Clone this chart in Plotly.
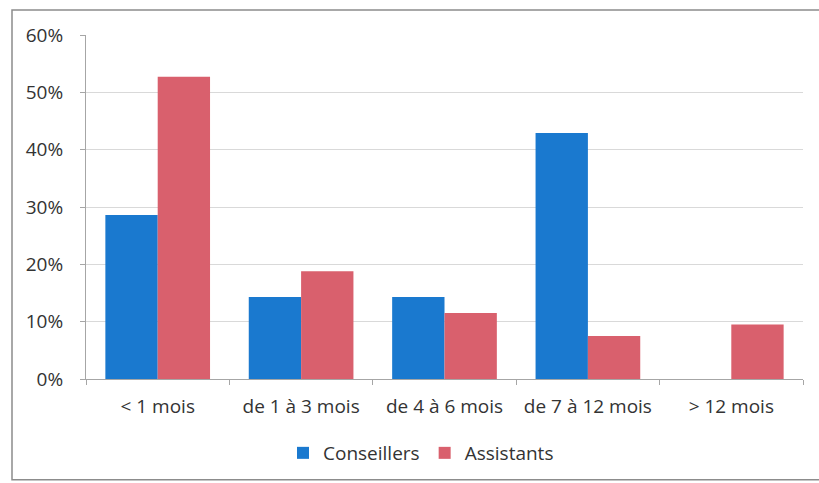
import plotly.graph_objects as go

# Durée d'ancienneté par catégorie de personnel
categories = ["< 1 mois", "de 1 à 3 mois", "de 4 à 6 mois", "de 7 à 12 mois", "> 12 mois"]
conseillers = [0.286, 0.143, 0.143, 0.429, 0.0]
assistants = [0.527, 0.188, 0.115, 0.075, 0.095]

blue = "#1a79cf"
red = "#d9606d"
text_color = "#333333"
font_family = "'Open Sans', Lato, sans-serif"

fig = go.Figure()
fig.add_trace(go.Bar(x=categories, y=conseillers, name="Conseillers",
                     marker=dict(color=blue, line=dict(width=0))))
fig.add_trace(go.Bar(x=categories, y=assistants, name="Assistants",
                     marker=dict(color=red, line=dict(width=0))))

W, H = 819, 483
L, R, T, B = 86, 16, 35, 103
pw, ph = W - L - R, H - T - B

def px_x(px):
    return (px - L) / pw

def px_y(py):
    return (H - B - py) / ph

fig.update_layout(
    width=W, height=H,
    margin=dict(l=L, r=R, t=T, b=B, pad=0),
    paper_bgcolor="white", plot_bgcolor="white",
    barmode="group", bargap=0.27, bargroupgap=0.0,
    font=dict(family=font_family, size=19, color=text_color),
    showlegend=True,
    legend=dict(orientation="h", x=px_x(421), xanchor="center",
                y=px_y(453), yanchor="middle",
                font=dict(size=19, color=text_color),
                itemwidth=30, traceorder="normal"),
    xaxis=dict(showgrid=False, showline=True, linecolor="#a6a6a6", linewidth=1,
               ticks="outside", ticklen=5, tickcolor="#a6a6a6",
               tickson="boundaries", ticklabelstandoff=10,
               tickfont=dict(size=19, color=text_color)),
    yaxis=dict(range=[0, 0.6], dtick=0.1, tickformat=".0%",
               showgrid=True, gridcolor="#d9d9d9", gridwidth=1,
               showline=True, linecolor="#a6a6a6", linewidth=1,
               ticks="outside", ticklen=5, tickcolor="#a6a6a6",
               ticklabelstandoff=13, zeroline=False,
               tickfont=dict(size=19, color=text_color)),
    shapes=[dict(type="rect", xref="paper", yref="paper",
                 x0=px_x(12), x1=px_x(830), y0=px_y(481), y1=px_y(10),
                 line=dict(color="#8c8c8c", width=1.5), layer="below")],
)

fig.write_html("out.html")
